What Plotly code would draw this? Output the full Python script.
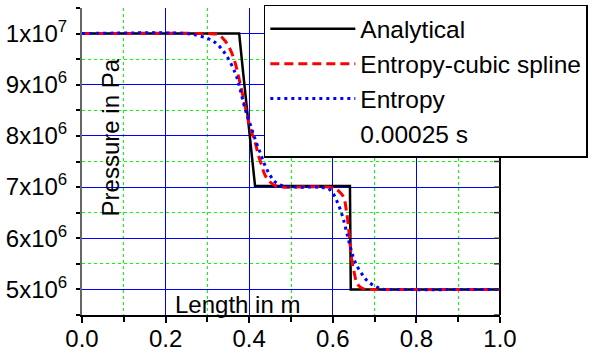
import plotly.graph_objects as go

# ---------------- data ----------------
analytical_x = [0.0, 0.376, 0.386, 0.396, 0.406, 0.414, 0.641, 0.643, 1.0]
analytical_y = [1.0e7, 1.0e7, 9.2e6, 8.42e6, 7.68e6, 7.02e6, 7.02e6, 5.0e6, 5.0e6]

spline_x = [0.0, 0.30, 0.322, 0.330, 0.342, 0.354, 0.366, 0.374, 0.382, 0.390, 0.398,
            0.406, 0.414, 0.422, 0.430, 0.438, 0.450, 0.462, 0.478, 0.50,
            0.590, 0.605, 0.617, 0.626, 0.633, 0.637, 0.641, 0.645, 0.651, 0.657,
            0.665, 0.677, 0.70, 1.0]
spline_y = [1.0e7, 1.0e7, 9.99e6, 9.96e6, 9.86e6, 9.70e6, 9.44e6, 9.18e6, 8.89e6, 8.59e6, 8.30e6,
            8.07e6, 7.88e6, 7.62e6, 7.42e6, 7.23e6, 7.10e6, 7.03e6, 7.0e6, 7.0e6,
            7.0e6, 6.97e6, 6.90e6, 6.80e6, 6.51e6, 6.25e6, 5.92e6, 5.60e6, 5.34e6, 5.14e6,
            5.05e6, 5.0e6, 5.0e6, 5.0e6]

entropy_x = [0.0, 0.25, 0.278, 0.302, 0.318, 0.334, 0.350, 0.366, 0.374, 0.382, 0.390,
             0.402, 0.414, 0.426, 0.438, 0.450, 0.462, 0.478, 0.506,
             0.560, 0.573, 0.589, 0.601, 0.609, 0.617, 0.625, 0.633, 0.641, 0.649,
             0.657, 0.669, 0.681, 0.697, 0.717, 0.740, 1.0]
entropy_y = [1.0e7, 1.0e7, 9.96e6, 9.90e6, 9.83e6, 9.70e6, 9.51e6, 9.24e6, 9.05e6, 8.79e6, 8.53e6,
             8.24e6, 7.94e6, 7.68e6, 7.42e6, 7.23e6, 7.10e6, 7.03e6, 7.0e6,
             7.0e6, 6.99e6, 6.97e6, 6.87e6, 6.74e6, 6.58e6, 6.38e6, 6.12e6, 5.86e6, 5.63e6,
             5.47e6, 5.31e6, 5.18e6, 5.08e6, 5.01e6, 5.0e6, 5.0e6]

series_names = ["Analytical", "Entropy-cubic spline", "Entropy", "0.00025 s"]

x_tickvals = [0.0, 0.2, 0.4, 0.6, 0.8, 1.0]
x_ticktext = ["0.0", "0.2", "0.4", "0.6", "0.8", "1.0"]
x_minorvals = [0.1, 0.3, 0.5, 0.7, 0.9]

y_tickvals = [5e6, 6e6, 7e6, 8e6, 9e6, 1e7]
y_ticktext = ["5x10<sup>6</sup>", "6x10<sup>6</sup>", "7x10<sup>6</sup>",
              "8x10<sup>6</sup>", "9x10<sup>6</sup>", "1x10<sup>7</sup>"]
y_minorvals = [4.5e6, 5.5e6, 6.5e6, 7.5e6, 8.5e6, 9.5e6, 1.05e7]

x_title = "Length in m"
y_title = "Pressure in Pa"

FONT = "Liberation Sans, Arial, Helvetica, sans-serif"

fig = go.Figure()
fig.add_trace(go.Scatter(x=analytical_x, y=analytical_y, mode="lines", name=series_names[0],
                         line=dict(color="black", width=2.5)))
fig.add_trace(go.Scatter(x=spline_x, y=spline_y, mode="lines", name=series_names[1],
                         line=dict(color="#ff0000", width=3, dash="9px,5px"), line_shape="spline"))
fig.add_trace(go.Scatter(x=entropy_x, y=entropy_y, mode="lines", name=series_names[2],
                         line=dict(color="#0000ff", width=3, dash="3px,4px"), line_shape="spline"))
fig.add_trace(go.Scatter(x=[None], y=[None], mode="lines", name=series_names[3],
                         line=dict(color="rgba(0,0,0,0)", width=0)))

yrange = [4.5e6, 1.05e7]

# right-hand axis line with inward ticks (drawn as shapes)
shapes = [dict(type="line", xref="paper", yref="paper", x0=1, x1=1, y0=0, y1=1,
               line=dict(color="black", width=2), layer="above")]
for v in y_tickvals + y_minorvals:
    shapes.append(dict(type="line", xref="paper", yref="y", x0=1 - 6 / 418, x1=1, y0=v, y1=v,
                       line=dict(color="#333333", width=1.5), layer="above"))

fig.update_layout(
    width=600, height=351,
    margin=dict(l=82, r=100, t=8, b=36, autoexpand=False),
    paper_bgcolor="white", plot_bgcolor="white",
    font=dict(family=FONT, size=24, color="black"),
    showlegend=True,
    legend=dict(x=0.435, y=1.01, xanchor="left", yanchor="top",
                bgcolor="white", bordercolor="black", borderwidth=1.5,
                font=dict(size=24.5, family=FONT), itemwidth=85, tracegroupgap=0),
    xaxis=dict(range=[0, 1], showline=True, linecolor="black", linewidth=2,
               ticks="outside", ticklen=6, tickwidth=1.5, tickcolor="black",
               tickmode="array", tickvals=x_tickvals, ticktext=x_ticktext,
               showgrid=True, gridcolor="#0000ff", gridwidth=1, zeroline=False,
               tickfont=dict(size=24), ticklabelstandoff=-5,
               minor=dict(tickmode="array", tickvals=x_minorvals, ticks="outside", ticklen=5,
                          tickcolor="black", showgrid=True, gridcolor="#00ff00",
                          griddash="dot", gridwidth=1)),
    yaxis=dict(range=yrange, showline=True, linecolor="#666666", linewidth=2,
               ticks="outside", ticklen=4, tickwidth=1.5, tickcolor="black",
               tickmode="array", tickvals=y_tickvals, ticktext=y_ticktext,
               showgrid=True, gridcolor="#0000ff", gridwidth=1, zeroline=False,
               tickfont=dict(size=24), ticklabelstandoff=4,
               minor=dict(tickmode="array", tickvals=y_minorvals, ticks="outside", ticklen=4,
                          tickcolor="black", showgrid=True, gridcolor="#00ff00",
                          griddash="dot", gridwidth=1)),
    shapes=shapes,
    annotations=[
        dict(text=y_title, x=0.069, y=0.578, xref="paper", yref="paper", textangle=-90,
             showarrow=False, font=dict(size=24, family=FONT), xanchor="center", yanchor="middle"),
        dict(text=x_title, x=0.373, y=0.035, xref="paper", yref="paper",
             showarrow=False, font=dict(size=24, family=FONT), xanchor="center", yanchor="middle"),
    ],
)

fig.write_html("out.html")
